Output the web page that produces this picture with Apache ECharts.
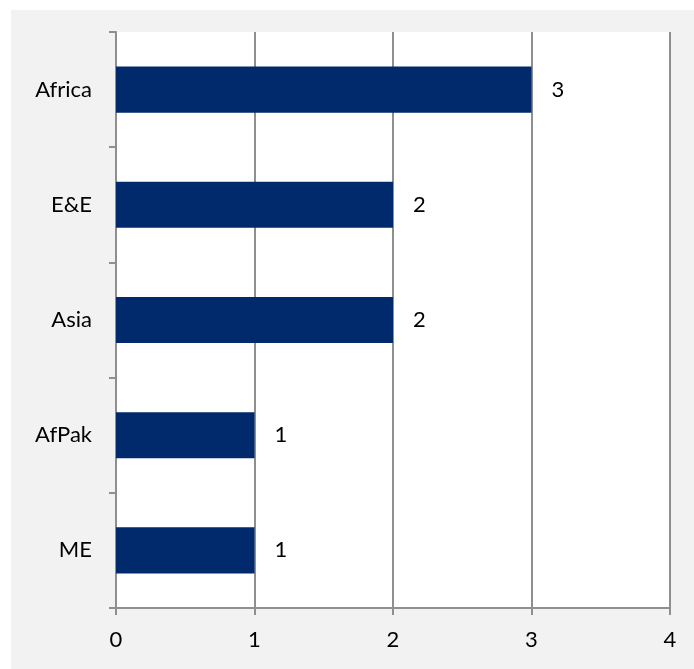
<!DOCTYPE html>
<html>
<head>
<meta charset="utf-8">
<script src="https://cdn.jsdelivr.net/npm/echarts@6/dist/echarts.min.js"></script>
<style>
  html, body { margin: 0; padding: 0; background: #ffffff; }
  #chart { position: absolute; left: 11px; top: 10px; width: 683px; height: 659px; }
</style>
</head>
<body>
<div id="chart"></div>
<script>
// Regions and their counts, top to bottom
const categories = ['Africa', 'E&E', 'Asia', 'AfPak', 'ME'];
const counts = [3, 2, 2, 1, 1];
const xTicks = [0, 1, 2, 3, 4];

const fontFamily = 'Lato, "Open Sans", sans-serif';
const lineColor = '#8f8f8f';

const chart = echarts.init(document.getElementById('chart'));
chart.setOption({
  backgroundColor: '#f2f2f2',
  animation: false,
  grid: {
    left: 105, top: 22, right: 24, bottom: 61,
    show: true, backgroundColor: '#ffffff', borderWidth: 0
  },
  xAxis: {
    type: 'value',
    min: xTicks[0],
    max: xTicks[xTicks.length - 1],
    interval: 1,
    axisLine: { show: true, lineStyle: { color: lineColor, width: 2 } },
    axisTick: { show: true, length: 7, lineStyle: { color: lineColor, width: 2 } },
    splitLine: { show: true, lineStyle: { color: lineColor, width: 2 } },
    axisLabel: { color: '#000', fontSize: 22, fontFamily: fontFamily, margin: 21 }
  },
  yAxis: {
    type: 'category',
    data: categories,
    inverse: true,
    axisLine: { show: true, lineStyle: { color: lineColor, width: 2 } },
    axisTick: { show: true, length: 7, lineStyle: { color: lineColor, width: 2 } },
    axisLabel: { color: '#000', fontSize: 22, fontFamily: fontFamily, margin: 24 },
    splitLine: { show: false }
  },
  series: [{
    type: 'bar',
    data: counts,
    barWidth: '40%',
    itemStyle: { color: '#002a6c' },
    label: {
      show: true,
      position: 'right',
      distance: 20,
      color: '#000',
      fontSize: 22,
      fontFamily: fontFamily
    }
  }]
});
</script>
</body>
</html>
